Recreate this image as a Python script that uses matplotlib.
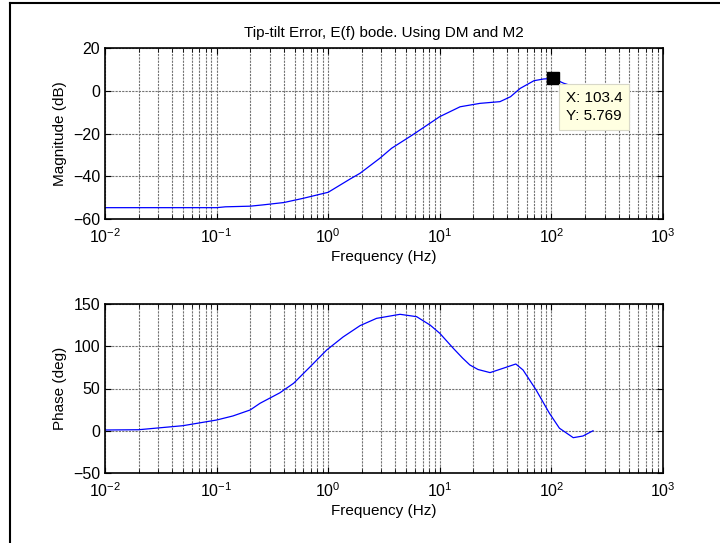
import matplotlib
matplotlib.use('Agg')
import matplotlib.pyplot as plt
from matplotlib.lines import Line2D
from matplotlib.ticker import LogLocator, FixedLocator
import numpy as np

plt.rcParams['font.family'] = ['Liberation Sans', 'DejaVu Sans']
plt.rcParams['mathtext.fontset'] = 'custom'
plt.rcParams['mathtext.rm'] = 'Liberation Sans'
plt.rcParams['mathtext.it'] = 'Liberation Sans'

# magnitude (dB)
mag_freq = [0.01, 0.02, 0.05, 0.1, 0.12, 0.2, 0.26, 0.4, 0.6, 1.0, 1.57, 1.93,
            2.9, 3.7, 5.8, 10, 15.2, 22.9, 34.6, 43, 52.5, 69.8, 85, 103.4, 129, 170, 235]
mag_db = [-54.7, -54.7, -54.7, -54.7, -54.3, -54.0, -53.4, -52.3, -50.3, -47.5, -41.3, -38.6,
          -31.6, -26.9, -20.4, -12.1, -7.5, -5.9, -5.1, -2.8, 1.1, 4.7, 5.5, 5.769, 3.5, 1.5, -0.5]

# phase (deg)
ph_freq = [0.01, 0.02, 0.05, 0.1, 0.14, 0.2, 0.245, 0.37, 0.49, 0.69, 0.97, 1.36, 1.93, 2.71,
           4.4, 6.2, 8.2, 10, 13.2, 16, 18.6, 22, 28.2, 36.9, 48, 55.7, 73, 96, 118, 157, 192, 236]
ph_deg = [0.9, 1.2, 6, 12.7, 17.5, 24.6, 32.5, 45, 56.2, 75.8, 95.6, 111, 124.4, 133,
          137.8, 135, 125, 115.3, 97.6, 86, 77.8, 72.5, 68.8, 73.9, 79, 71.9, 48.2, 20.7, 3, -8.2, -6.2, 0]

tip_x, tip_y = 103.4, 5.769

fig = plt.figure(figsize=(7.2, 5.43), dpi=100)
axMAG = fig.add_axes([105/720, 1-219/543, 558/720, 171/543])
axPH = fig.add_axes([105/720, 1-473/543, 558/720, 169/543])

def StyleAxis(ax, yticks, ylim):
    ax.set_xscale('log')
    ax.set_xlim(1e-2, 1e3)
    ax.set_ylim(*ylim)
    ax.yaxis.set_major_locator(FixedLocator(yticks))
    ax.xaxis.set_major_locator(LogLocator(base=10, numticks=10))
    ax.xaxis.set_minor_locator(LogLocator(base=10, subs=np.arange(2, 10), numticks=20))
    ax.tick_params(which='both', direction='in', top=True, right=True, labelsize=11.5)
    ax.tick_params(axis='x', which='major', pad=6)
    ax.tick_params(which='major', length=4)
    ax.tick_params(which='minor', length=3)
    ax.grid(True, which='major', color='0.45', linestyle=(0, (2, 1)), linewidth=0.8)
    ax.grid(True, which='minor', axis='x', color='0.45', linestyle=(0, (2, 1)), linewidth=0.8)
    for s in ax.spines.values():
        s.set_linewidth(1.2)
    ax.set_xlabel('Frequency (Hz)', fontsize=11, labelpad=3)

StyleAxis(axMAG, [-60, -40, -20, 0, 20], (-60, 20))
StyleAxis(axPH, [-50, 0, 50, 100, 150], (-50, 150))

axMAG.plot(mag_freq, mag_db, color='blue', linewidth=0.9)
axPH.plot(ph_freq, ph_deg, color='blue', linewidth=0.9)

axMAG.set_ylabel('Magnitude (dB)', fontsize=11)
axPH.set_ylabel('Phase (deg)', fontsize=11)
axMAG.set_title('Tip-tilt Error, E(f) bode. Using DM and M2', fontsize=11, pad=8)

# data tip
axMAG.plot([tip_x], [tip_y], marker='s', color='black', markersize=8, zorder=5)
axMAG.annotate(f'X: {tip_x}\nY: {tip_y}', xy=(tip_x, tip_y), xytext=(9, -9),
               textcoords='offset points', ha='left', va='top', fontsize=11,
               linespacing=1.35, zorder=6,
               bbox=dict(boxstyle='square,pad=0.45', facecolor='#ffffe1', edgecolor='#d8d8c8', linewidth=0.8))

# outer frame (left and top)
fig.add_artist(Line2D([9.5/720, 9.5/720], [0, 1-2.5/543], transform=fig.transFigure, color='black', linewidth=1.5))
fig.add_artist(Line2D([9.5/720, 1], [1-2.5/543, 1-2.5/543], transform=fig.transFigure, color='black', linewidth=1.5))

fig.savefig('out.png', dpi=100)
